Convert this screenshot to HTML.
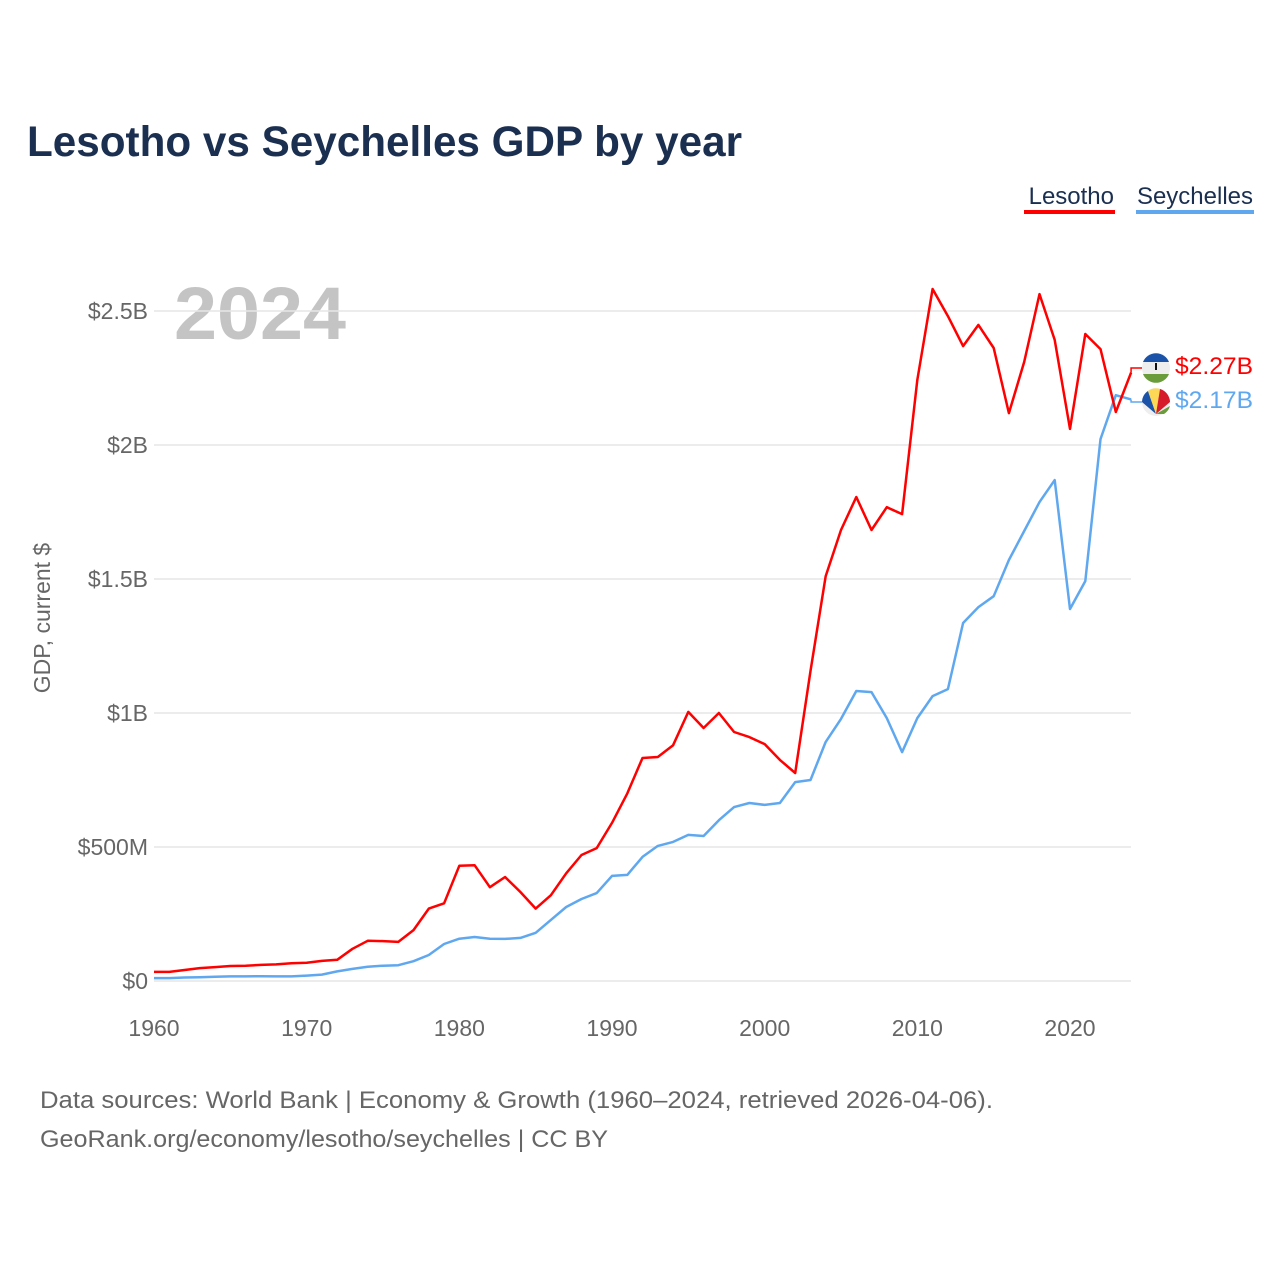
<!DOCTYPE html>
<html><head><meta charset="utf-8"><style>
body{margin:0;background:#fff;font-family:"Liberation Sans",sans-serif;}
svg{display:block}
</style></head><body>
<svg id="chart" width="1280" height="1280" viewBox="0 0 1280 1280" xmlns="http://www.w3.org/2000/svg">
<rect width="1280" height="1280" fill="#fff"/>
<text x="27" y="156" font-size="43" font-weight="bold" fill="#1b2f50" textLength="715" lengthAdjust="spacingAndGlyphs">Lesotho vs Seychelles GDP by year</text>
<g>
<text x="1114" y="204" text-anchor="end" font-size="24" fill="#1b2f50">Lesotho</text>
<rect x="1024" y="210" width="91" height="4" fill="#ff0000"/>
<text x="1253" y="204" text-anchor="end" font-size="24" fill="#1b2f50">Seychelles</text>
<rect x="1136" y="210" width="118" height="4" fill="#5fa8ef"/>
</g>
<text x="174" y="339" font-size="74" font-weight="bold" fill="#c4c4c4" textLength="172" lengthAdjust="spacingAndGlyphs">2024</text>
<text transform="translate(50,618) rotate(-90)" text-anchor="middle" font-size="23" fill="#666">GDP, current $</text>
<g id="grid"></g><g id="lines"></g>
<g>
<circle cx="1156" cy="368" r="14" fill="#eee"/>
<path d="M1143,362 a14,14 0 0,1 26,0 z" fill="#1a53a8"/>
<path d="M1143,374 a14,14 0 0,0 26,0 z" fill="#6a9c3c"/>
<rect x="1155" y="363" width="2" height="7" fill="#111"/>
<circle cx="1156" cy="402" r="14" fill="#eee"/>
<path d="M1156,414 L1142,402 a14,14 0 0,1 6,-11 z" fill="#1a53a8"/>
<path d="M1156,414 L1148,391 a14,14 0 0,1 12,-2 z" fill="#fcd856"/>
<path d="M1156,414 L1160,389 a14,14 0 0,1 10,13 z" fill="#d61b2a"/>
<path d="M1156,414 L1170,406 a14,14 0 0,1 -6,8 z" fill="#6a9c3c"/>
<text x="1175" y="374" font-size="24" fill="#ff0000" textLength="78" lengthAdjust="spacingAndGlyphs">$2.27B</text>
<text x="1175" y="408" font-size="24" fill="#5fa8ef" textLength="78" lengthAdjust="spacingAndGlyphs">$2.17B</text>
</g>
<text x="40" y="1108" font-size="24" fill="#666" textLength="953" lengthAdjust="spacingAndGlyphs">Data sources: World Bank | Economy &amp; Growth (1960–2024, retrieved 2026-04-06).</text>
<text x="40" y="1147" font-size="24" fill="#666" textLength="568" lengthAdjust="spacingAndGlyphs">GeoRank.org/economy/lesotho/seychelles | CC BY</text>
</svg>
<script>
const years=[];for(let y=1960;y<=2024;y++)years.push(y);
const lesotho=[34,34,41,48,52,56,57,60,62,66,68,75,79,120,150,149,146,190,270,290,430,432,350,388,332,270,320,402,470,496,590,700,832,836,880,1004,944,1000,929,910,884,825,776,1157,1511,1683,1806,1683,1768,1742,2242,2582,2481,2369,2448,2362,2119,2310,2563,2392,2060,2414,2358,2123,2270];
const seychelles=[11,11,13,14,16,17,17,18,17,17,20,24,36,45,53,57,59,74,97,138,158,164,158,157,161,180,228,276,306,328,392,396,463,504,519,545,541,600,649,664,657,664,742,750,892,978,1082,1078,981,854,981,1063,1089,1336,1395,1436,1571,1679,1787,1869,1388,1492,2022,2186,2170];
const yTicks=[0,500,1000,1500,2000,2500];
const yTickLabels=["$0","$500M","$1B","$1.5B","$2B","$2.5B"];
const xTicks=[1960,1970,1980,1990,2000,2010,2020];
const NS="http://www.w3.org/2000/svg";
const x=v=>154+(v-1960)*(916/60);
const y=v=>981-v*(134/500);
const grid=document.getElementById('grid'),lines=document.getElementById('lines');
function mk(t,a,p){const e=document.createElementNS(NS,t);for(const k in a)e.setAttribute(k,a[k]);p.appendChild(e);return e;}
yTicks.forEach((t,i)=>{
  const l=mk('line',{x1:154,x2:1131,y1:y(t),y2:y(t),stroke:'#e6e6e6','stroke-width':1.5},grid);
  
  
  const tx=mk('text',{x:148,y:y(t)+8,'text-anchor':'end','font-size':23,fill:'#666'},grid);
  tx.textContent=yTickLabels[i];
  
  
});
xTicks.forEach(t=>{
  const tx=mk('text',{x:x(t),y:1036,'text-anchor':'middle','font-size':23,fill:'#666'},grid);
  tx.textContent=t;
  
  
});
function line(data,color,name){
  const d=data.map((v,i)=>(i?'L':'M')+x(years[i]).toFixed(1)+','+y(v).toFixed(1)).join('');
  const p=mk('path',{d:d,fill:'none',stroke:color,'stroke-width':2.5,'stroke-linejoin':'round'},lines);
  
  
  return p;
}
line(seychelles,'#5fa8ef','seychelles-line');
line(lesotho,'#ff0000','lesotho-line');
const lx=x(2024),ly=y(lesotho[lesotho.length-1]),sy=y(seychelles[seychelles.length-1]);
const c1=mk('path',{d:`M${lx},${ly} L${lx},368 L1142,368`,fill:'none',stroke:'#ff0000','stroke-width':1.5},lines);


const c2=mk('path',{d:`M${lx},${sy} L${lx},402 L1142,402`,fill:'none',stroke:'#5fa8ef','stroke-width':1.5},lines);


</script>
</body></html>
